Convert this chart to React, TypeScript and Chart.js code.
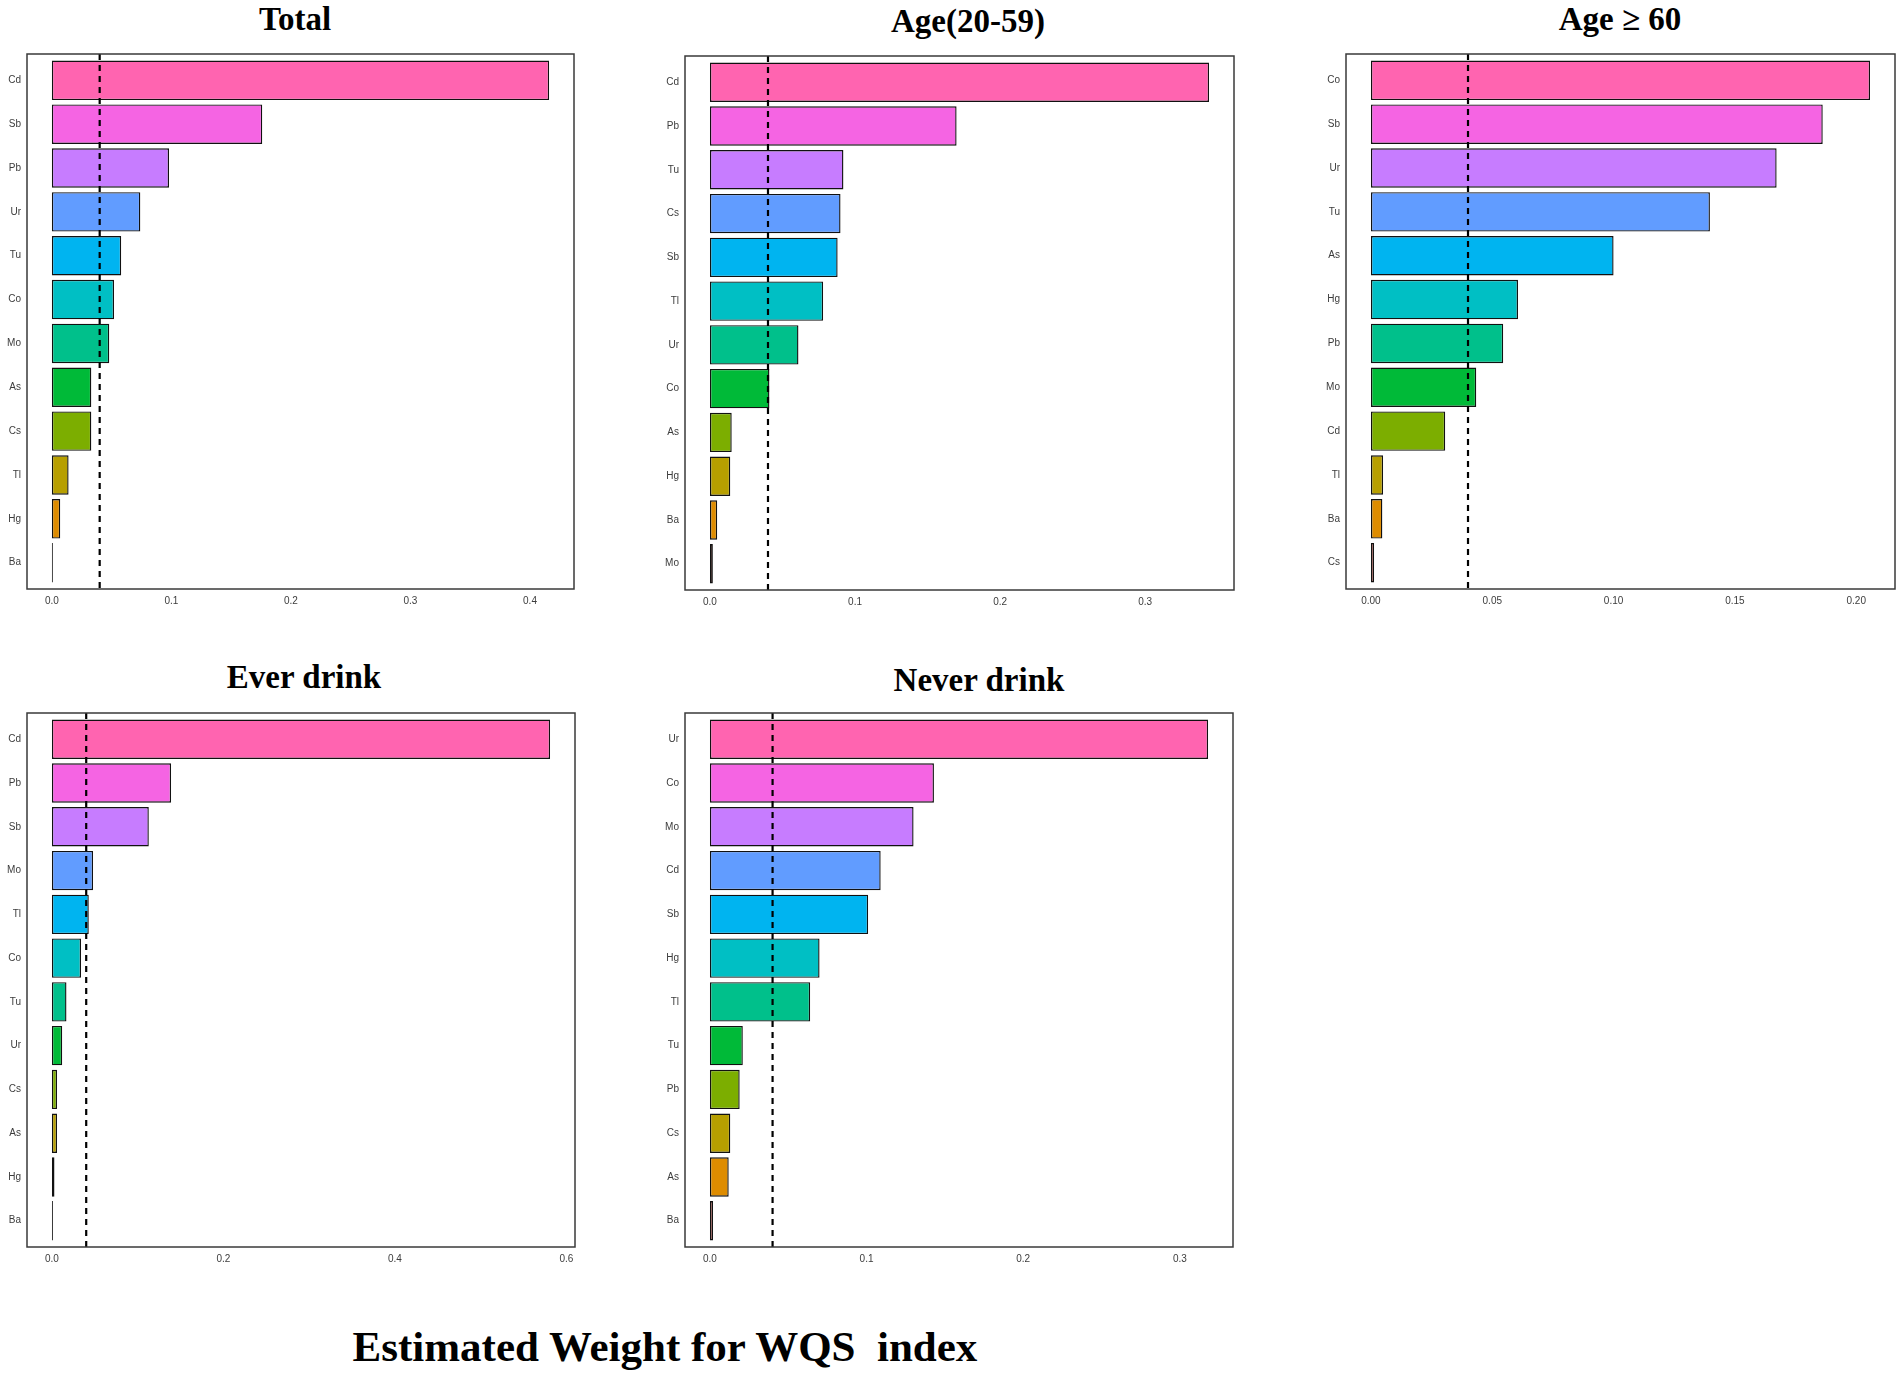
import React, { useEffect, useRef } from "react";
import { Chart, registerables } from "chart.js";

Chart.register(...registerables);

// ---------- data ----------
const hueColors = [
  "#FF64B0", "#F564E3", "#C77CFF", "#619CFF", "#00B4F0", "#00BFC4",
  "#00C08B", "#00BA38", "#7CAE00", "#B79F00", "#DE8C00", "#F8766D",
];

const threshold = 0.04;

const totalLabels = ["Cd", "Sb", "Pb", "Ur", "Tu", "Co", "Mo", "As", "Cs", "Tl", "Hg", "Ba"];
const totalValues = [0.416, 0.176, 0.098, 0.074, 0.058, 0.052, 0.048, 0.033, 0.033, 0.014, 0.007, 0.0003];
const totalTicks = [0, 0.1, 0.2, 0.3, 0.4];
const totalTickLabels = ["0.0", "0.1", "0.2", "0.3", "0.4"];

const age2059Labels = ["Cd", "Pb", "Tu", "Cs", "Sb", "Tl", "Ur", "Co", "As", "Hg", "Ba", "Mo"];
const age2059Values = [0.344, 0.170, 0.092, 0.090, 0.088, 0.078, 0.061, 0.041, 0.015, 0.014, 0.005, 0.002];
const age2059Ticks = [0, 0.1, 0.2, 0.3];
const age2059TickLabels = ["0.0", "0.1", "0.2", "0.3"];

const age60Labels = ["Co", "Sb", "Ur", "Tu", "As", "Hg", "Pb", "Mo", "Cd", "Tl", "Ba", "Cs"];
const age60Values = [0.2057, 0.1862, 0.1672, 0.1397, 0.100, 0.0606, 0.0545, 0.0434, 0.0306, 0.005, 0.0047, 0.0013];
const age60Ticks = [0, 0.05, 0.1, 0.15, 0.2];
const age60TickLabels = ["0.00", "0.05", "0.10", "0.15", "0.20"];

const everLabels = ["Cd", "Pb", "Sb", "Mo", "Tl", "Co", "Tu", "Ur", "Cs", "As", "Hg", "Ba"];
const everValues = [0.581, 0.139, 0.113, 0.048, 0.043, 0.034, 0.017, 0.012, 0.006, 0.006, 0.003, 0.0003];
const everTicks = [0, 0.2, 0.4, 0.6];
const everTickLabels = ["0.0", "0.2", "0.4", "0.6"];

const neverLabels = ["Ur", "Co", "Mo", "Cd", "Sb", "Hg", "Tl", "Tu", "Pb", "Cs", "As", "Ba"];
const neverValues = [0.318, 0.143, 0.130, 0.109, 0.101, 0.070, 0.064, 0.021, 0.019, 0.013, 0.012, 0.002];
const neverTicks = [0, 0.1, 0.2, 0.3];
const neverTickLabels = ["0.0", "0.1", "0.2", "0.3"];

const mainTitle = "Estimated Weight for WQS  index";

// ---------- layout ----------
const Y_AXIS_W = 27;
const PAD_TOP = 4;
const PAD_RIGHT = 6;
const X_AXIS_H = 24;

type PanelDef = {
  title: string;
  labels: string[];
  values: number[];
  ticks: number[];
  tickLabels: string[];
  box: { l: number; t: number; r: number; b: number };
  titleCx: number;
  titleBaseline: number;
};

const panels: PanelDef[] = [
  { title: "Total", labels: totalLabels, values: totalValues, ticks: totalTicks, tickLabels: totalTickLabels,
    box: { l: 27, t: 54, r: 574, b: 589 }, titleCx: 295, titleBaseline: 31 },
  { title: "Age(20-59)", labels: age2059Labels, values: age2059Values, ticks: age2059Ticks, tickLabels: age2059TickLabels,
    box: { l: 685, t: 56, r: 1234, b: 590 }, titleCx: 968, titleBaseline: 33 },
  { title: "Age \u2265 60", labels: age60Labels, values: age60Values, ticks: age60Ticks, tickLabels: age60TickLabels,
    box: { l: 1346, t: 54, r: 1895, b: 589 }, titleCx: 1620, titleBaseline: 31 },
  { title: "Ever drink", labels: everLabels, values: everValues, ticks: everTicks, tickLabels: everTickLabels,
    box: { l: 27, t: 713, r: 575, b: 1247 }, titleCx: 304, titleBaseline: 689 },
  { title: "Never drink", labels: neverLabels, values: neverValues, ticks: neverTicks, tickLabels: neverTickLabels,
    box: { l: 685, t: 713, r: 1233, b: 1247 }, titleCx: 979, titleBaseline: 692 },
];

const borderPlugin = {
  id: "panelBorder",
  afterDatasetsDraw(chart: any) {
    const { ctx, chartArea } = chart;
    ctx.save();
    ctx.strokeStyle = "#3a3a3a";
    ctx.lineWidth = 1.5;
    ctx.strokeRect(chartArea.left, chartArea.top, chartArea.right - chartArea.left, chartArea.bottom - chartArea.top);
    ctx.restore();
  },
};

const tickFont = { family: "'Liberation Sans', Arial, sans-serif", size: 10 };

function Panel({ p }: { p: PanelDef }) {
  const ref = useRef<HTMLCanvasElement | null>(null);
  const w = p.box.r - p.box.l;
  const h = p.box.b - p.box.t;
  const cw = Y_AXIS_W + w + PAD_RIGHT;
  const ch = PAD_TOP + h + X_AXIS_H;

  useEffect(() => {
    if (!ref.current) return;
    const n = p.labels.length;
    const vmax = Math.max(...p.values);
    const chart = new Chart(ref.current, {
      type: "bar",
      data: {
        datasets: [
          {
            type: "line",
            data: [{ x: threshold, y: -0.6 }, { x: threshold, y: n - 0.4 }],
            borderColor: "#000000",
            borderWidth: 2.2,
            borderDash: [6, 5],
            pointRadius: 0,
            fill: false,
            order: 0,
          } as any,
          {
            type: "bar",
            data: p.values.map((v, i) => ({ x: v, y: i })),
            backgroundColor: hueColors,
            borderColor: "#111111",
            borderWidth: 1.4,
            borderSkipped: false,
            barPercentage: 0.9,
            categoryPercentage: 1,
            minBarLength: 1,
            order: 1,
          } as any,
        ],
      },
      options: {
        indexAxis: "y",
        responsive: false,
        animation: false,
        devicePixelRatio: 1,
        layout: { padding: { top: PAD_TOP, right: PAD_RIGHT, left: 0, bottom: 0 } },
        plugins: { legend: { display: false }, tooltip: { enabled: false } },
        scales: {
          x: {
            type: "linear",
            offset: false,
            min: -0.05 * vmax,
            max: 1.05 * vmax,
            grid: { display: false, drawTicks: false },
            border: { display: false },
            afterBuildTicks: (s: any) => { s.ticks = p.ticks.map((v) => ({ value: v })); },
            afterFit: (s: any) => {
              s.height = X_AXIS_H;
              s.paddingLeft = 0;
              s.paddingRight = 0;
            },
            ticks: {
              padding: 6,
              font: tickFont,
              color: "#3c3c3c",
              autoSkip: false,
              maxRotation: 0,
              callback: (_v: any, i: number) => p.tickLabels[i],
            },
          },
          y: {
            type: "linear",
            offset: false,
            reverse: true,
            min: -0.6,
            max: n - 0.4,
            grid: { display: false, drawTicks: false, offset: false },
            border: { display: false },
            afterBuildTicks: (s: any) => { s.ticks = p.labels.map((_l, i) => ({ value: i })); },
            afterFit: (s: any) => {
              s.width = Y_AXIS_W;
              s.paddingTop = 0;
              s.paddingBottom = 0;
            },
            ticks: {
              padding: 6,
              font: tickFont,
              color: "#3c3c3c",
              autoSkip: false,
              callback: (_v: any, i: number) => p.labels[i],
            },
          },
        },
      } as any,
      plugins: [borderPlugin],
    });
    return () => chart.destroy();
  }, [p]);

  return (
    <>
      <div
        style={{
          position: "absolute",
          left: p.titleCx - 300,
          width: 600,
          top: p.titleBaseline - 27.7,
          height: 33,
          lineHeight: "33px",
          fontSize: 33,
          fontWeight: "bold",
          fontFamily: "'Liberation Serif', 'Times New Roman', serif",
          textAlign: "center",
          color: "#000",
          whiteSpace: "pre",
        }}
      >
        {p.title}
      </div>
      <canvas
        ref={ref}
        width={cw}
        height={ch}
        style={{
          position: "absolute",
          left: p.box.l - Y_AXIS_W,
          top: p.box.t - PAD_TOP,
          width: cw,
          height: ch,
        }}
      />
    </>
  );
}

export default function App() {
  return (
    <div style={{ position: "absolute", left: 0, top: 0, width: 1902, height: 1375, background: "#fff", overflow: "hidden" }}>
      {panels.map((p) => (
        <Panel key={p.title} p={p} />
      ))}
      <div
        style={{
          position: "absolute",
          left: 665 - 450,
          width: 900,
          top: 1361 - 36,
          height: 43,
          lineHeight: "43px",
          fontSize: 43,
          fontWeight: "bold",
          fontFamily: "'Liberation Serif', 'Times New Roman', serif",
          textAlign: "center",
          color: "#000",
          whiteSpace: "pre",
        }}
      >
        {mainTitle}
      </div>
    </div>
  );
}
